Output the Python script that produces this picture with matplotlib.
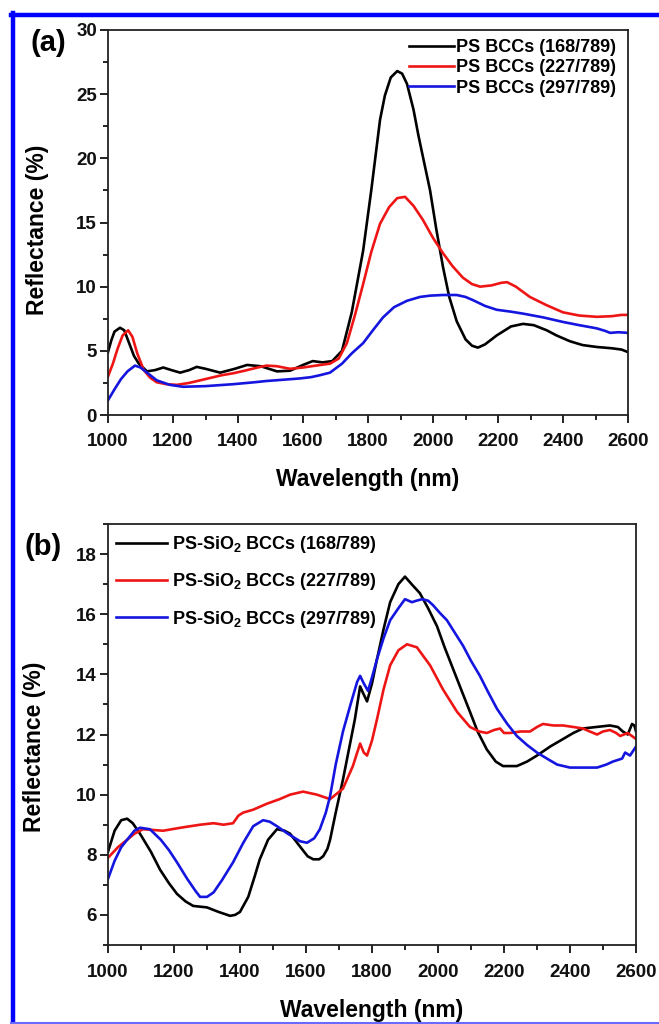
import matplotlib
matplotlib.use("Agg")
import matplotlib.pyplot as plt
from matplotlib.lines import Line2D
from matplotlib.ticker import MultipleLocator

plt.rcParams['font.family'] = ['Liberation Sans', 'DejaVu Sans']
plt.rcParams['font.weight'] = 'bold'
plt.rcParams['mathtext.fontset'] = 'custom'
plt.rcParams['mathtext.rm'] = 'Liberation Sans:bold'
plt.rcParams['mathtext.it'] = 'Liberation Sans:bold'
plt.rcParams['mathtext.bf'] = 'Liberation Sans:bold'

# ---------------- Panel (a) data ----------------
a_black_wl = [1000, 1010, 1020, 1037, 1050, 1065, 1080, 1095, 1120, 1145, 1170, 1195, 1222, 1250, 1273,
              1300, 1345, 1390, 1428, 1470, 1520, 1560, 1600, 1630, 1660, 1690, 1720, 1750, 1785, 1810,
              1837, 1852, 1870, 1890, 1905, 1920, 1940, 1955, 1970, 1991, 2010, 2031, 2050, 2073, 2100, 2120,
              2138, 2160, 2196, 2240, 2277, 2310, 2350, 2380, 2421, 2460, 2504, 2550, 2580, 2600]
a_black_r = [4.9, 5.8, 6.5, 6.8, 6.6, 5.6, 4.6, 4.0, 3.4, 3.5, 3.7, 3.5, 3.3, 3.5, 3.75,
             3.6, 3.3, 3.6, 3.9, 3.8, 3.4, 3.45, 3.9, 4.2, 4.1, 4.2, 5.0, 8.0, 12.8, 17.5,
             23.0, 24.9, 26.3, 26.8, 26.6, 25.8, 23.8, 21.8, 20.0, 17.5, 14.5, 11.5, 9.2, 7.3, 5.9, 5.4,
             5.25, 5.5, 6.2, 6.9, 7.1, 7.0, 6.6, 6.2, 5.75, 5.45, 5.3, 5.2, 5.1, 4.9]

a_red_wl = [1000, 1015, 1030, 1045, 1062, 1075, 1090, 1110, 1130, 1150, 1180, 1212, 1250, 1300, 1350,
            1385, 1420, 1460, 1488, 1520, 1560, 1600, 1640, 1683, 1710, 1735, 1760, 1785, 1810, 1837,
            1865, 1890, 1914, 1940, 1969, 2000, 2031, 2060, 2092, 2120, 2145, 2180, 2210, 2228, 2255,
            2298, 2350, 2400, 2450, 2504, 2550, 2580, 2600]
a_red_r = [3.0, 4.0, 5.2, 6.2, 6.6, 6.1, 4.8, 3.5, 2.9, 2.55, 2.4, 2.35, 2.5, 2.8, 3.1,
           3.25, 3.45, 3.7, 3.85, 3.8, 3.6, 3.7, 3.85, 4.0, 4.4, 5.6, 7.8, 10.2, 12.7, 14.9,
           16.2, 16.9, 17.0, 16.3, 15.2, 13.8, 12.6, 11.6, 10.7, 10.2, 10.0, 10.1, 10.3, 10.35, 10.0,
           9.2, 8.55, 8.0, 7.75, 7.65, 7.7, 7.8, 7.8]

a_blue_wl = [1000, 1020, 1040, 1060, 1083, 1100, 1125, 1150, 1190, 1231, 1300, 1385, 1450, 1488, 1540,
             1591, 1625, 1652, 1683, 1720, 1750, 1785, 1815, 1846, 1880, 1920, 1960, 1991, 2030, 2073,
             2100, 2123, 2160, 2196, 2240, 2277, 2340, 2400, 2450, 2504, 2530, 2545, 2570, 2600]
a_blue_r = [1.15, 2.0, 2.8, 3.4, 3.85, 3.7, 3.2, 2.7, 2.35, 2.2, 2.25, 2.4, 2.55, 2.65, 2.75,
            2.85, 2.95, 3.1, 3.3, 4.0, 4.8, 5.6, 6.6, 7.6, 8.4, 8.9, 9.2, 9.3, 9.35, 9.35,
            9.2, 8.95, 8.5, 8.2, 8.05, 7.9, 7.6, 7.25, 7.0, 6.75, 6.55, 6.4, 6.45, 6.4]

a_labels = ['PS BCCs (168/789)', 'PS BCCs (227/789)', 'PS BCCs (297/789)']

# ---------------- Panel (b) data ----------------
b_black_wl = [1000, 1020, 1040, 1058, 1075, 1097, 1130, 1158, 1185, 1209, 1235, 1258, 1300, 1335, 1370,
              1385, 1400, 1425, 1445, 1460, 1485, 1512, 1535, 1552, 1580, 1605, 1622, 1640, 1652, 1665,
              1673, 1690, 1712, 1730, 1748, 1764, 1772, 1785, 1800, 1815, 1835, 1855, 1880, 1900, 1920,
              1945, 1970, 1997, 2020, 2045, 2070, 2097, 2120, 2148, 2175, 2197, 2239, 2270, 2300, 2340,
              2379, 2410, 2439, 2480, 2521, 2545, 2560, 2575, 2588, 2595, 2600]
b_black_r = [8.1, 8.8, 9.15, 9.2, 9.05, 8.7, 8.1, 7.5, 7.05, 6.7, 6.45, 6.3, 6.25, 6.1, 5.97,
             6.0, 6.1, 6.6, 7.3, 7.85, 8.5, 8.85, 8.8, 8.7, 8.3, 7.95, 7.85, 7.85, 7.95, 8.2,
             8.5, 9.4, 10.5, 11.5, 12.5, 13.6, 13.4, 13.1, 13.7, 14.5, 15.5, 16.4, 17.0, 17.25, 17.0,
             16.7, 16.2, 15.6, 14.9, 14.2, 13.5, 12.75, 12.1, 11.5, 11.1, 10.95, 10.95, 11.1, 11.3, 11.6,
             11.85, 12.05, 12.2, 12.25, 12.3, 12.25, 12.1, 12.0, 12.35, 12.3, 12.1]

b_red_wl = [1000, 1030, 1058, 1080, 1106, 1167, 1220, 1279, 1320, 1350, 1379, 1395, 1409, 1440, 1482,
            1520, 1552, 1591, 1633, 1673, 1712, 1742, 1764, 1775, 1785, 1800, 1815, 1835, 1855, 1880,
            1906, 1936, 1956, 1976, 2015, 2058, 2097, 2125, 2148, 2170, 2188, 2200, 2218, 2250, 2279,
            2300, 2318, 2350, 2379, 2410, 2439, 2460, 2482, 2500, 2521, 2540, 2552, 2575, 2600]
b_red_r = [7.9, 8.25, 8.5, 8.7, 8.85, 8.8, 8.9, 9.0, 9.05, 9.0, 9.05, 9.3, 9.4, 9.5, 9.7,
           9.85, 10.0, 10.1, 10.0, 9.85, 10.2, 10.95, 11.7, 11.4, 11.3, 11.8, 12.5, 13.5, 14.3, 14.8,
           15.0, 14.9, 14.6, 14.3, 13.5, 12.75, 12.25, 12.1, 12.05, 12.15, 12.2, 12.05, 12.05, 12.1, 12.1,
           12.25, 12.35, 12.3, 12.3, 12.25, 12.2, 12.1, 12.0, 12.1, 12.15, 12.05, 11.95, 12.05, 11.85]

b_blue_wl = [1000, 1020, 1040, 1058, 1080, 1097, 1127, 1160, 1185, 1209, 1240, 1265, 1279, 1300, 1320,
             1345, 1379, 1410, 1440, 1470, 1490, 1512, 1545, 1582, 1603, 1625, 1642, 1660, 1673, 1690,
             1712, 1735, 1755, 1764, 1775, 1788, 1800, 1815, 1835, 1855, 1880, 1900, 1921, 1935, 1952,
             1970, 1985, 2005, 2027, 2050, 2076, 2100, 2127, 2150, 2179, 2210, 2239, 2270, 2300, 2330,
             2361, 2400, 2440, 2482, 2510, 2530, 2558, 2567, 2582, 2600]
b_blue_r = [7.2, 7.8, 8.25, 8.5, 8.8, 8.9, 8.85, 8.5, 8.15, 7.75, 7.2, 6.8, 6.6, 6.6, 6.75,
            7.15, 7.75, 8.4, 8.95, 9.15, 9.1, 8.95, 8.7, 8.45, 8.4, 8.55, 8.85, 9.4, 9.95, 11.0,
            12.1, 13.0, 13.75, 13.95, 13.7, 13.45, 13.9, 14.5, 15.2, 15.8, 16.2, 16.5, 16.4, 16.45, 16.5,
            16.45, 16.3, 16.05, 15.8, 15.4, 14.95, 14.45, 13.95, 13.45, 12.85, 12.35, 11.95, 11.65, 11.4, 11.2,
            11.0, 10.9, 10.9, 10.9, 11.0, 11.1, 11.2, 11.4, 11.3, 11.6]

b_labels = [r'PS-SiO$_\mathrm{2}$ BCCs (168/789)',
            r'PS-SiO$_\mathrm{2}$ BCCs (227/789)',
            r'PS-SiO$_\mathrm{2}$ BCCs (297/789)']

x_ticks = [1000, 1200, 1400, 1600, 1800, 2000, 2200, 2400, 2600]
a_yticks = [0, 5, 10, 15, 20, 25, 30]
b_yticks = [6, 8, 10, 12, 14, 16, 18]

BLACK = '#000000'
RED = '#ee1515'
BLUE = '#1515e0'

W, H = 659, 1024
fig = plt.figure(figsize=(W / 100, H / 100), dpi=100)


def px_axes(l, t, r, b):
    return fig.add_axes([l / W, 1 - b / H, (r - l) / W, (b - t) / H])


def style(ax):
    for s in ax.spines.values():
        s.set_linewidth(1.3)
        s.set_color('#222222')
    ax.tick_params(which='major', direction='out', length=6, width=1.3,
                   labelsize=13.5, pad=2, colors='#111111')
    ax.tick_params(which='minor', direction='out', length=3.5, width=1.2)
    ax.tick_params(top=False, right=False, which='both')
    for lab in ax.get_xticklabels() + ax.get_yticklabels():
        lab.set_fontweight('bold')
    ax.xaxis.set_minor_locator(MultipleLocator(100))


# ---- Panel (a)
ax1 = px_axes(108, 30, 628, 415)
ax1.plot(a_black_wl, a_black_r, color=BLACK, lw=1.9)
ax1.plot(a_red_wl, a_red_r, color=RED, lw=1.9)
ax1.plot(a_blue_wl, a_blue_r, color=BLUE, lw=1.9)
ax1.set_xlim(1000, 2600)
ax1.set_ylim(0, 30)
ax1.set_xticks(x_ticks)
ax1.set_yticks(a_yticks)
ax1.yaxis.set_minor_locator(MultipleLocator(2.5))
style(ax1)
ax1.tick_params(axis='x', pad=7)
ax1.set_xlabel('Wavelength (nm)', fontsize=16.5, fontweight='bold', va='top')
ax1.xaxis.set_label_coords(0.5, -0.137)
ax1.set_ylabel('Reflectance (%)', fontsize=16.5, fontweight='bold')
ax1.yaxis.set_label_coords(-0.113, 0.48)
h1 = [Line2D([], [], color=c, lw=1.9) for c in (BLACK, RED, BLUE)]
leg1 = ax1.legend(h1, a_labels, loc='upper right', frameon=False,
                  prop={'size': 13, 'weight': 'bold'}, handlelength=2.5,
                  handletextpad=0.1, labelspacing=0.18, borderaxespad=0,
                  bbox_to_anchor=(623 / W, 1 - 32 / H), bbox_transform=fig.transFigure)
fig.text(31 / W, 1 - 43 / H, '(a)', fontsize=21, fontweight='bold', va='center', ha='left')

# ---- Panel (b)
ax2 = px_axes(108, 524, 636, 945)
ax2.plot(b_black_wl, b_black_r, color=BLACK, lw=1.9)
ax2.plot(b_red_wl, b_red_r, color=RED, lw=1.9)
ax2.plot(b_blue_wl, b_blue_r, color=BLUE, lw=1.9)
ax2.set_xlim(1000, 2600)
ax2.set_ylim(5, 19)
ax2.set_xticks(x_ticks)
ax2.set_yticks(b_yticks)
ax2.yaxis.set_minor_locator(MultipleLocator(1))
style(ax2)
ax2.tick_params(axis='x', pad=8)
ax2.set_xlabel('Wavelength (nm)', fontsize=16.5, fontweight='bold', va='top')
ax2.xaxis.set_label_coords(0.5, -0.128)
ax2.set_ylabel('Reflectance (%)', fontsize=16.5, fontweight='bold')
ax2.yaxis.set_label_coords(-0.118, 0.47)
h2 = [Line2D([], [], color=c, lw=1.9) for c in (BLACK, RED, BLUE)]
leg2 = ax2.legend(h2, b_labels, loc='upper left', frameon=False,
                  prop={'size': 13, 'weight': 'bold'}, handlelength=2.8,
                  handletextpad=0.3, labelspacing=0.9, borderaxespad=0,
                  bbox_to_anchor=(109 / W, 1 - 527 / H), bbox_transform=fig.transFigure)
fig.text(25 / W, 1 - 547 / H, '(b)', fontsize=21, fontweight='bold', va='center', ha='left')

# ---- blue frame around the figure
fig.add_artist(Line2D([13 / W, 13 / W], [0, 1 - 13 / H], color='#0000ff', lw=3.2,
                      transform=fig.transFigure))
fig.add_artist(Line2D([11 / W, 1.0], [1 - 14.5 / H, 1 - 14.5 / H], color='#0000ff', lw=3.2,
                      transform=fig.transFigure))
fig.add_artist(Line2D([11 / W, 1.0], [1.5 / H, 1.5 / H], color='#6a6aff', lw=1.5,
                      transform=fig.transFigure))

fig.savefig('out.png', dpi=100)
